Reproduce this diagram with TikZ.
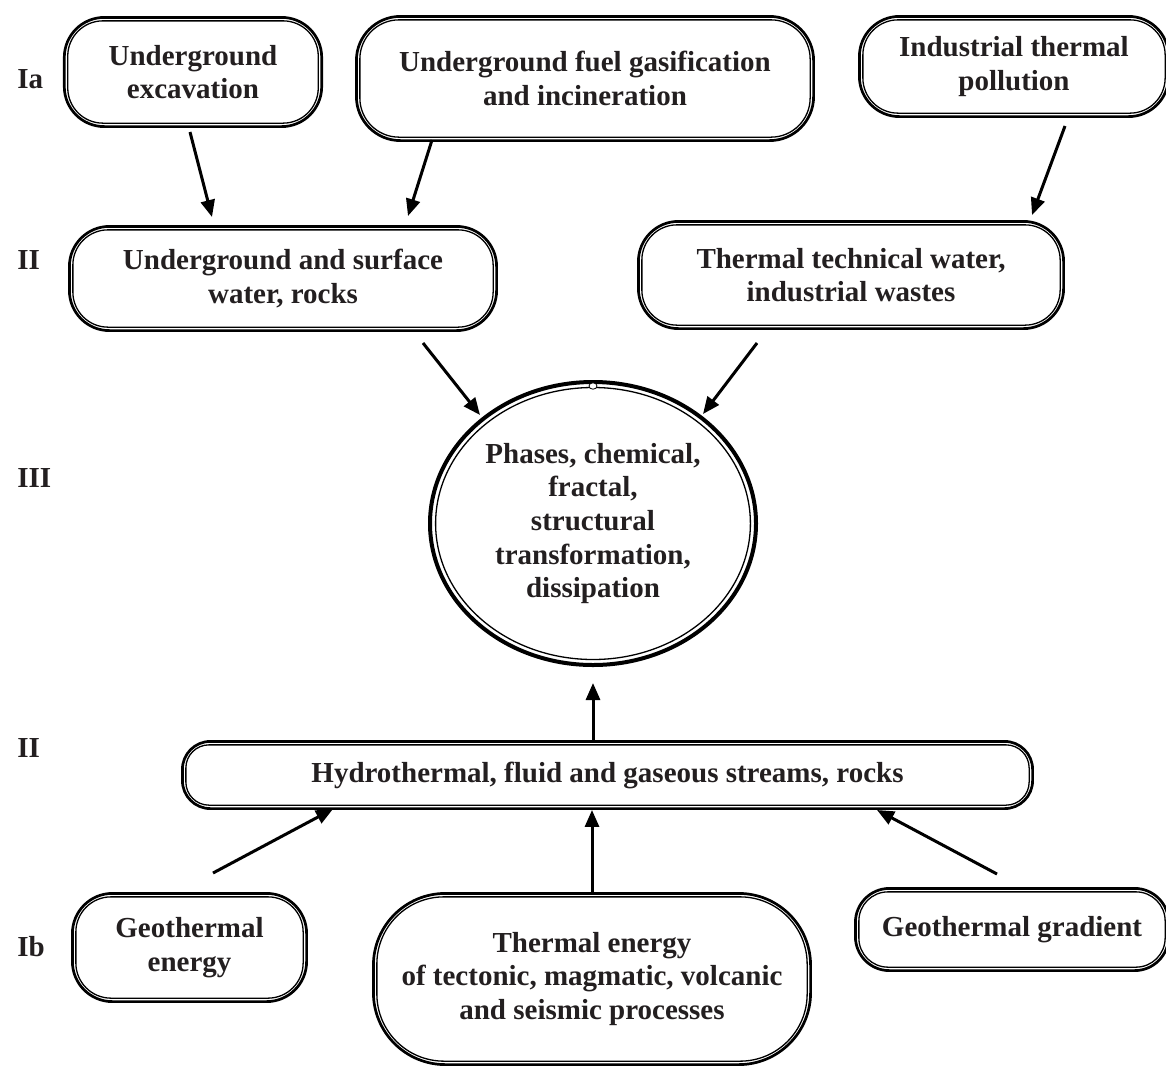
\documentclass[tikz,border=0pt]{standalone}
\usepackage{fontspec}
\setmainfont{Liberation Serif}
\usetikzlibrary{arrows.meta,shapes.geometric}
\definecolor{txt}{RGB}{35,31,32}
\begin{document}
\begin{tikzpicture}[x=0.5pt,y=-0.5pt,
  tfont/.style={font=\bfseries\fontsize{14.5}{16.8}\selectfont, text=txt},
  lbl/.style={tfont, anchor=west, inner sep=0pt},
  dbox/.style={draw=black, line width=1.35pt, rounded corners=#1, align=center, inner sep=0pt, tfont},
  innerline/.style={draw=black, line width=0.65pt, rounded corners=#1},
  arr/.style={draw=black, line width=1.5pt, -{Triangle[length=8.5pt,width=7pt]}},
]
\path[use as bounding box] (0,0) rectangle (1166,1066);
\clip (0,0) rectangle (1166,1066);

% level labels
\node[lbl] (Lia)  at (17,79)  {Ia};
\node[lbl] (Lii)  at (17,260) {II};
\node[lbl] (Liii) at (17,478) {III};
\node[lbl] (Lii2) at (17,748) {II};
\node[lbl] (Lib)  at (17,947) {Ib};

% boxes
\node[dbox=20pt, minimum width=128.7pt, minimum height=54.6pt] (B1) at (193,72)
  {Underground\\excavation};
\node[dbox=22pt, minimum width=228.6pt, minimum height=62.1pt] (B2) at (585,78.5)
  {Underground fuel gasification\\and incineration};
\node[dbox=20pt, minimum width=154.6pt, minimum height=50.1pt] (B3) at (1014,66.5)
  {Industrial thermal\\pollution};
\node[dbox=20pt, minimum width=213.6pt, minimum height=52.1pt] (B4) at (283,278.5)
  {Underground and surface\\water, rocks};
\node[dbox=20pt, minimum width=212.6pt, minimum height=53.6pt] (B5) at (851,275)
  {Thermal technical water,\\industrial wastes};
\node[dbox=14pt, minimum width=425.1pt, minimum height=33.6pt] (B7) at (607.5,775)
  {Hydrothermal, fluid and gaseous streams, rocks};
\node[dbox=20pt, minimum width=117.1pt, minimum height=54.1pt] (B8) at (189.5,947.5)
  {Geothermal\\energy};
\node[dbox=36pt, minimum width=218.6pt, minimum height=85.6pt] (B9) at (592,979)
  {Thermal energy\\of tectonic, magmatic, volcanic\\and seismic processes};
\node[dbox=17pt, minimum width=156.6pt, minimum height=41.1pt] (B10) at (1012,929.5)
  {Geothermal gradient};

% inner lines of the double borders
\foreach \n/\r in {B1/17.6pt,B2/19.6pt,B3/17.6pt,B4/17.6pt,B5/17.6pt,B7/11.6pt,B8/17.6pt,B9/33.6pt,B10/14.6pt}
  \draw[innerline=\r] ([shift={(2.4pt,2.4pt)}]\n.south west) rectangle ([shift={(-2.4pt,-2.4pt)}]\n.north east);

% central ellipse
\node[ellipse, draw=black, line width=2pt, minimum width=163pt, minimum height=141.5pt,
      inner sep=0pt, align=center, tfont] (E) at (593,523.5)
  {Phases, chemical,\\fractal,\\structural\\transformation,\\dissipation};
\draw[line width=0.65pt] (E.center) ellipse [x radius=78.7pt, y radius=68pt];
\draw[line width=0.4pt, fill=white] (593,386) ellipse [x radius=2pt, y radius=1.6pt];

% arrow end points
\coordinate (a1s) at (190,132);  \coordinate (a1e) at (212,217);
\coordinate (a2s) at (432,140);  \coordinate (a2e) at (408,216);
\coordinate (a3s) at (1065,126); \coordinate (a3e) at (1032,215);
\coordinate (a4s) at (423,343);  \coordinate (a4e) at (480,415);
\coordinate (a5s) at (757,343);  \coordinate (a5e) at (703,414);
\coordinate (a6e) at (593,683);
\coordinate (a7s) at (213,873);  \coordinate (a7e) at (333,809);
\coordinate (a9s) at (997,874);  \coordinate (a9e) at (877,810);

% connectors
\draw[arr] (a1s) -- (a1e);
\draw[arr] (a2s) -- (a2e);
\draw[arr] (a3s) -- (a3e);
\draw[arr] (a4s) -- (a4e);
\draw[arr] (a5s) -- (a5e);
\draw[arr] (B7.north -| E.south) -- (a6e);
\draw[arr] (a7s) -- (a7e);
\draw[arr] (B9.north) -- (B9.north |- B7.south);
\draw[arr] (a9s) -- (a9e);
\end{tikzpicture}
\end{document}
